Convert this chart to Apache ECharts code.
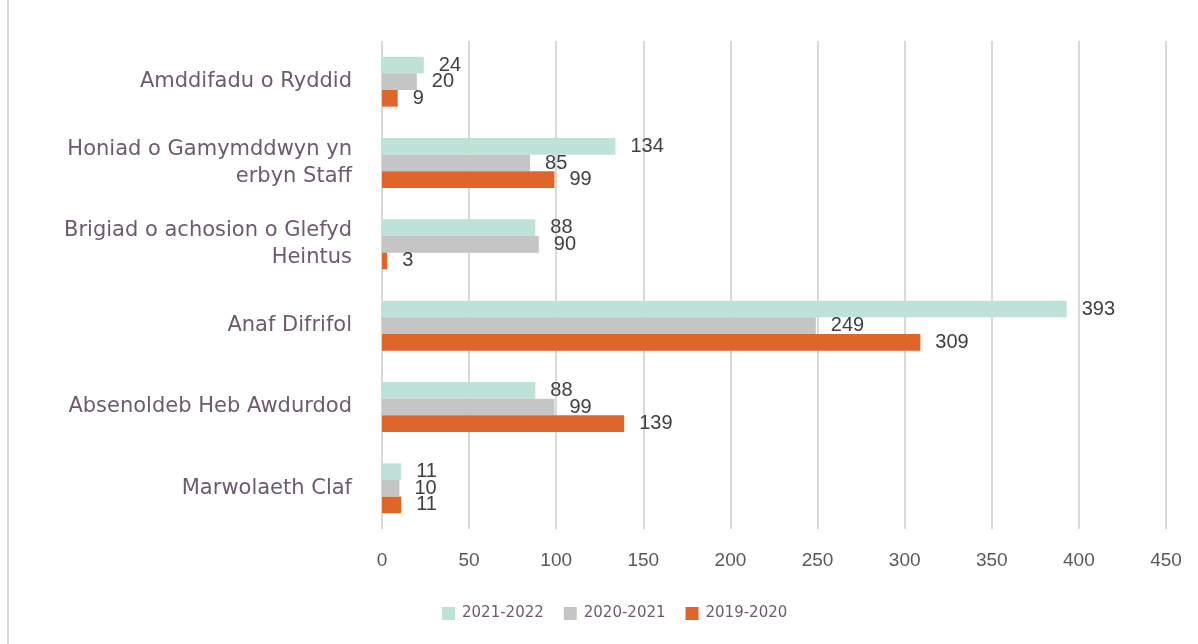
<!DOCTYPE html>
<html><head><meta charset="utf-8">
<script src="https://cdn.jsdelivr.net/npm/echarts@6/dist/echarts.min.js"></script>
<style>html,body{margin:0;padding:0;background:#fff}#c{width:1198px;height:644px}</style>
</head><body><div id="c"></div>
<script>
const categories = ['Amddifadu o Ryddid','Honiad o Gamymddwyn yn\nerbyn Staff','Brigiad o achosion o Glefyd\nHeintus','Anaf Difrifol','Absenoldeb Heb Awdurdod','Marwolaeth Claf'];
const seriesNames = ['2021-2022','2020-2021','2019-2020'];
const v2122 = [24,134,88,393,88,11];
const v2021 = [20,85,90,249,99,10];
const v1920 = [9,99,3,309,139,11];
const colors = ['#BFE2D8','#C5C5C5','#DE662B'];
const data = [v2122, v2021, v1920];
const chart = echarts.init(document.getElementById('c'));
chart.setOption({
  animation:false,
  color: colors,
  grid:{left:382,right:32,top:41,bottom:115,containLabel:false},
  legend:{bottom:18,left:437,itemWidth:13,itemHeight:13,itemGap:20,icon:'rect',
    textStyle:{fontFamily:'DejaVu Sans, sans-serif',fontSize:15,color:'#6E5A6E',padding:[0,0,0,2]},data:seriesNames},
  xAxis:{type:'value',min:0,max:450,interval:50,
    axisLine:{show:false},axisTick:{show:false},
    axisLabel:{fontFamily:'Liberation Sans, sans-serif',fontSize:19,color:'#595959',margin:22},
    splitLine:{lineStyle:{color:'#D9D9D9',width:2}}},
  yAxis:{type:'category',data:categories,inverse:true,
    axisLine:{show:false},axisTick:{show:false},
    axisLabel:{fontFamily:'DejaVu Sans, sans-serif',fontSize:21,color:'#6E5A6E',margin:30,lineHeight:27,align:'right'}},
  graphic:[{type:'line',shape:{x1:8,y1:0,x2:8,y2:644},style:{stroke:'#D9D9D9',lineWidth:2}}],
  series: seriesNames.map((n,i)=>({name:n,type:'bar',data:data[i],barGap:'0%',barCategoryGap:'38.6%',
    label:{show:true,position:'right',distance:15,fontFamily:'Liberation Sans, sans-serif',fontSize:20,color:'#404040'}}))
});
</script></body></html>
